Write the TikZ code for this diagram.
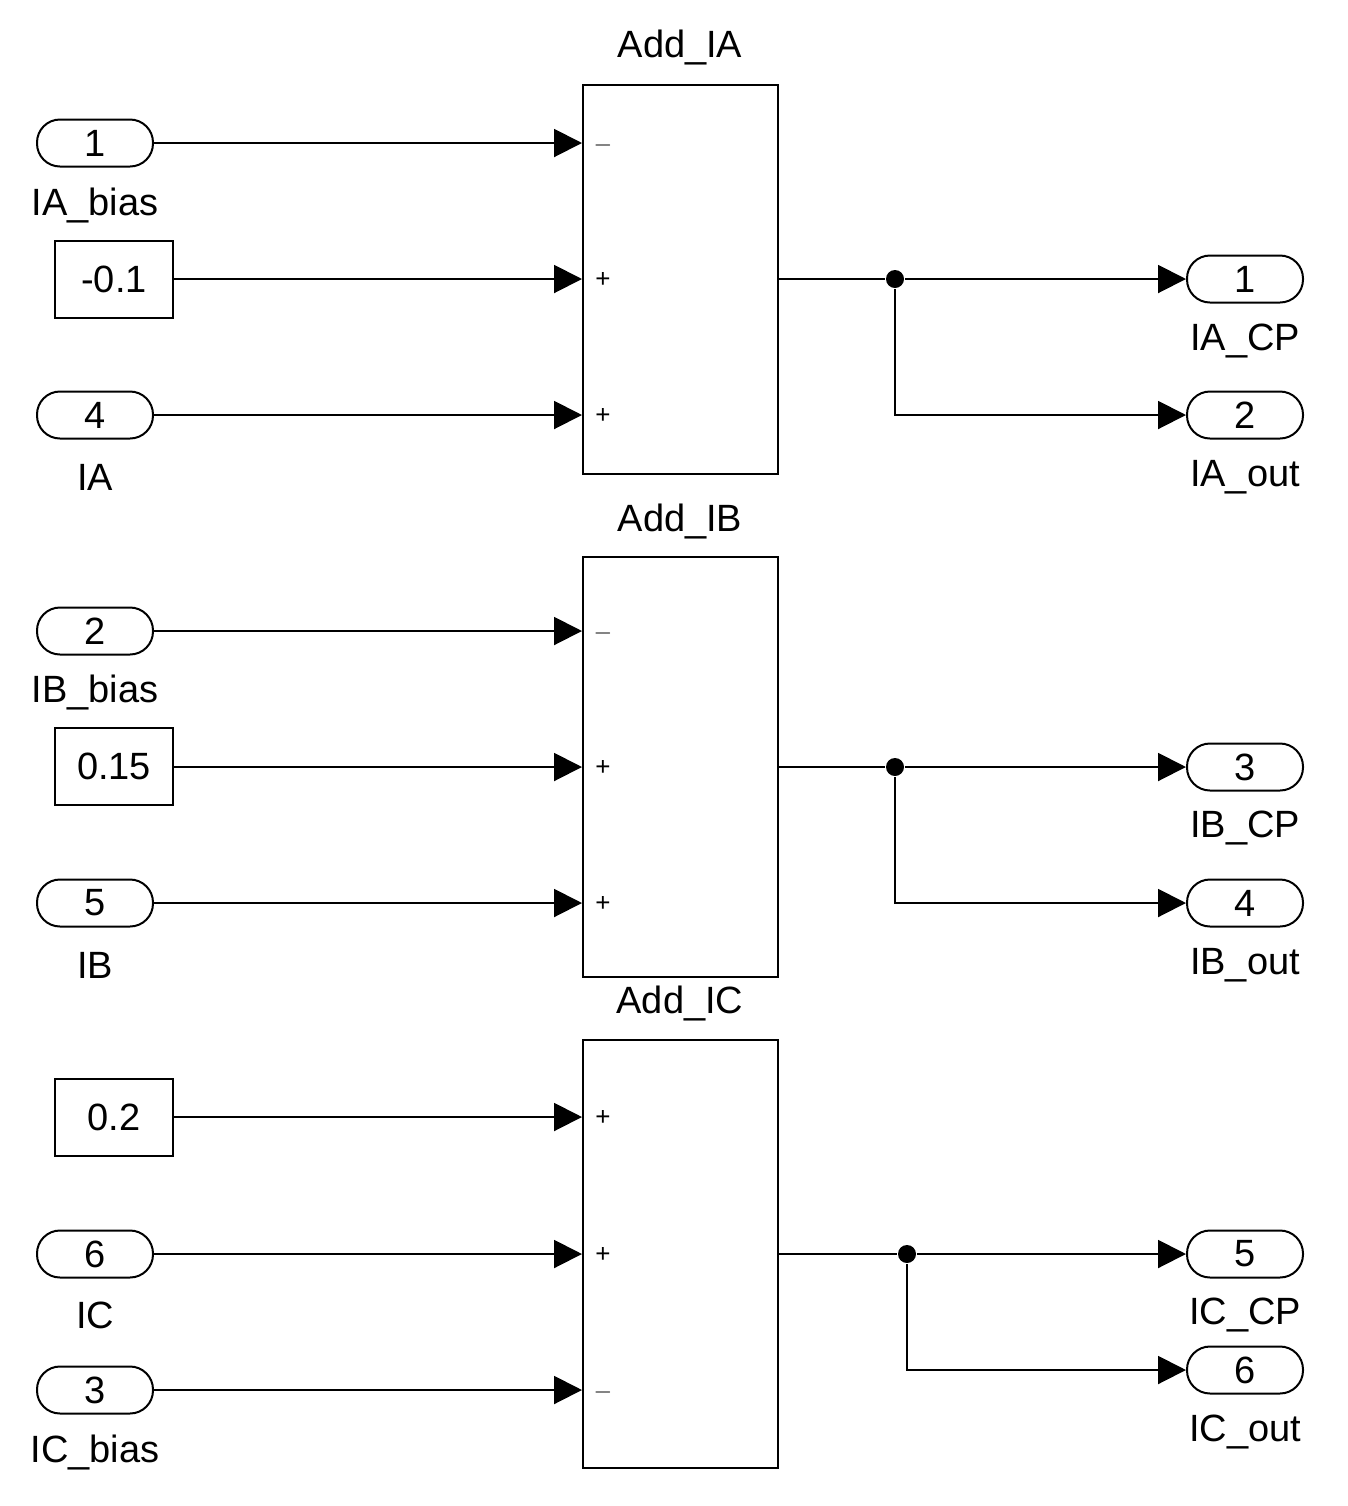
\documentclass[tikz,border=0pt]{standalone}
\usepackage{fontspec}
\setmainfont{Liberation Sans}
\usetikzlibrary{arrows.meta}
\begin{document}
\begin{tikzpicture}[x=0.5pt,y=-0.5pt,
  font=\fontsize{19}{22}\selectfont,
  line width=1pt,
  port/.style={draw,rounded corners=11.5pt,minimum width=58pt,minimum height=23.5pt,inner sep=0pt},
  cst/.style={draw,minimum width=59pt,minimum height=38.5pt,inner sep=0pt},
  sum/.style={draw,minimum width=97.5pt,inner sep=0pt},
  lbl/.style={inner sep=0pt},
  sgn/.style={inner sep=0pt,font=\fontsize{13}{14}\selectfont},
  sig/.style={-{Triangle[length=14pt,width=14pt]}},
  dot/.style={circle,fill,inner sep=0pt,minimum size=9pt}]
\useasboundingbox (0,0) rectangle (1348,1506);
% ---- Add_IA
\node[sum,minimum height=194.5pt] (A) at (680,279.5) {};
\node[lbl] at (680,48) {Add\_IA};
\node[port] (i1) at (95,143) {1}; \node[lbl] at (95,205) {IA\_bias};
\node[cst] (c1) at (114,279.5) {-0.1};
\node[port] (i4) at (95,415) {4}; \node[lbl] at (95,477) {IA};
\coordinate (A1) at (582,143); \coordinate (A2) at (582,279); \coordinate (A3) at (582,415);
\draw[sig] (i1.east) -- (A1); \draw[sig] (c1.east|-A2) -- (A2); \draw[sig] (i4.east) -- (A3);
\node[sgn] at (603,145) {$-$}; \node[sgn] at (603,280) {+}; \node[sgn] at (603,416) {+};
\node[port] (o1) at (1245,279) {1}; \node[lbl] at (1245,341) {IA\_CP};
\node[port] (o2) at (1245,415) {2}; \node[lbl] at (1245,477) {IA\_out};
\node[dot] (d1) at (895,279) {};
\draw (A.east|-A2) -- (d1); \draw[sig] (d1) -- (o1.west);
\draw[sig] (d1) |- (o2.west);
% ---- Add_IB
\node[sum,minimum height=210pt] (B) at (680,767) {};
\node[lbl] at (680,521) {Add\_IB};
\node[port] (i2) at (95,631) {2}; \node[lbl] at (95,692) {IB\_bias};
\node[cst] (c2) at (114,766.5) {0.15};
\node[port] (i5) at (95,903) {5}; \node[lbl] at (95,965) {IB};
\coordinate (B1) at (582,631); \coordinate (B2) at (582,767); \coordinate (B3) at (582,903);
\draw[sig] (i2.east) -- (B1); \draw[sig] (c2.east|-B2) -- (B2); \draw[sig] (i5.east) -- (B3);
\node[sgn] at (603,633) {$-$}; \node[sgn] at (603,768) {+}; \node[sgn] at (603,904) {+};
\node[port] (o3) at (1245,767) {3}; \node[lbl] at (1245,828) {IB\_CP};
\node[port] (o4) at (1245,903) {4}; \node[lbl] at (1245,965) {IB\_out};
\node[dot] (d2) at (895,767) {};
\draw (B.east|-B2) -- (d2); \draw[sig] (d2) -- (o3.west);
\draw[sig] (d2) |- (o4.west);
% ---- Add_IC
\node[sum,minimum height=214pt] (C) at (680,1254) {};
\node[lbl] at (680,1003) {Add\_IC};
\node[cst] (c3) at (114,1117.5) {0.2};
\node[port] (i6) at (95,1254) {6}; \node[lbl] at (95,1315) {IC};
\node[port] (i3) at (95,1390) {3}; \node[lbl] at (95,1452) {IC\_bias};
\coordinate (C1) at (582,1117); \coordinate (C2) at (582,1254); \coordinate (C3) at (582,1390);
\draw[sig] (c3.east|-C1) -- (C1); \draw[sig] (i6.east) -- (C2); \draw[sig] (i3.east) -- (C3);
\node[sgn] at (603,1118) {+}; \node[sgn] at (603,1255) {+}; \node[sgn] at (603,1392) {$-$};
\node[port] (o5) at (1245,1254) {5}; \node[lbl] at (1245,1315) {IC\_CP};
\node[port] (o6) at (1245,1370) {6}; \node[lbl] at (1245,1432) {IC\_out};
\node[dot] (d3) at (907,1254) {};
\draw (C.east|-C2) -- (d3); \draw[sig] (d3) -- (o5.west);
\draw[sig] (d3) |- (o6.west);
\end{tikzpicture}
\end{document}
